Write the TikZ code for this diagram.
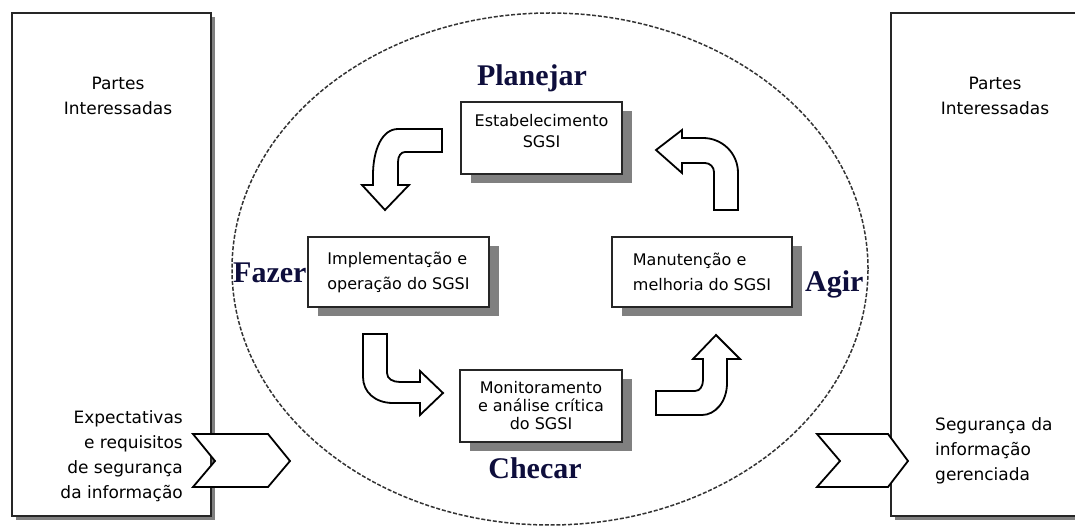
\documentclass[tikz,border=0pt]{standalone}
\usepackage{fontspec}
\setmainfont{Liberation Serif}
\setsansfont{DejaVu Sans}
\usepackage{xcolor}
\usetikzlibrary{shadows, positioning}
\definecolor{phasenavy}{RGB}{14,14,60}
\definecolor{shadowgray}{RGB}{128,128,128}

\begin{document}
\begin{tikzpicture}[
  x=1pt, y=-1pt,
  outerbox/.style={rectangle, draw=black!85, line width=2pt, fill=white,
                   drop shadow={shadow xshift=4pt, shadow yshift=-4pt, fill=shadowgray, opacity=1}},
  stagebox/.style={rectangle, draw=black!85, line width=2pt, fill=white,
                   inner sep=4pt, font=\sffamily\fontsize{16}{25}\selectfont,
                   drop shadow={shadow xshift=10pt, shadow yshift=-9pt, fill=shadowgray, opacity=1}},
  sidetext/.style={inner sep=0pt, font=\sffamily\fontsize{17}{25}\selectfont},
  phase/.style={inner sep=0pt, font=\rmfamily\bfseries\fontsize{30}{30}\selectfont, text=phasenavy},
  blockarr/.style={draw=black, fill=white, line width=1.8pt, line join=miter},
  chevron/.style={draw=black, fill=white, line width=1.8pt, line join=miter},
  cycleline/.style={draw=black!80, line width=1.5pt, dash pattern=on 4pt off 1.8pt},
]
\useasboundingbox (0,0) rectangle (1075,526);

% cycle ellipse
\draw[cycleline] (550,269) ellipse [x radius=318pt, y radius=256pt];

% interested parties
\node[outerbox, minimum width=199pt, minimum height=503pt] (partesL) at (111.5,264.5) {};
\node[outerbox, minimum width=220pt, minimum height=503pt] (partesR) at (1001,264.5) {};

\node[sidetext, align=center, anchor=base] (interL) at (118,115) {Partes\\Interessadas};
\node[sidetext, align=right, anchor=base east] (expect) at (183,498)
  {Expectativas\\e requisitos\\de segurança\\da informação};
\node[sidetext, align=center, anchor=base] (interR) at (995,115) {Partes\\Interessadas};
\node[sidetext, align=left, anchor=base west] (gerenc) at (935,480)
  {Segurança da\\informação\\gerenciada};

% PDCA stages
\node[stagebox, minimum width=161pt, minimum height=72pt] (estab) at (541.5,138) {};
\node[sidetext, align=center, anchor=base, font=\sffamily\fontsize{16}{21}\selectfont]
  (estabtxt) at (estab.center |- 0,148) {Estabelecimento\\SGSI};
\node[stagebox, minimum width=181pt, minimum height=70pt, align=left] (implem) at (398.5,272)
  {Implementação e\\operação do SGSI};
\node[stagebox, minimum width=180pt, minimum height=70pt, align=left] (manut) at (702,272)
  {Manutenção e\\melhoria do SGSI};
\node[stagebox, minimum width=162pt, minimum height=72pt, align=center,
      font=\sffamily\fontsize{16}{18}\selectfont] (monit) at (541,406)
  {Monitoramento\\e análise crítica\\do SGSI};

\node[phase, anchor=base] (planejar) at (532,86) {Planejar};
\node[phase, anchor=base west] (fazer) at (233,283) {Fazer};
\node[phase, anchor=base west] (agir) at (805,291) {Agir};
\node[phase, anchor=base] (checar) at (535,478) {Checar};

% turning arrows
\draw[blockarr] (442,129) -- (398,129) .. controls (382,129) and (373,150) .. (373,175)
  -- (373,185) -- (362,185) -- (385,210) -- (409,185) -- (398,185) -- (398,162)
  .. controls (398,156) and (401,152) .. (405,152) -- (442,152) -- cycle;
\draw[blockarr] (363,334) -- (387,334) -- (387,373) .. controls (387,379) and (393,382) .. (400,382)
  -- (420,382) -- (420,371) -- (443,393) -- (420,415) -- (420,403) -- (393,403)
  .. controls (375,403) and (363,392) .. (363,377) -- cycle;
\draw[blockarr] (656,391) -- (695,391) .. controls (700,391) and (703,386) .. (703,380)
  -- (703,359) -- (693,359) -- (716,335) -- (740,359) -- (727,359) -- (727,383)
  .. controls (727,402) and (715,415) .. (702,415) -- (656,415) -- cycle;
\draw[blockarr] (738,210) -- (714,210) -- (714,172) .. controls (714,167) and (710,163) .. (705,163)
  -- (682,163) -- (682,173) -- (656,150) -- (682,130) -- (682,138) -- (703,138)
  .. controls (722,138) and (738,153) .. (738,173) -- cycle;

% input and output chevrons
\draw[chevron] (193,434) -- (268,434) -- (290,461) -- (268,487) -- (193,487) -- (215,461) -- cycle;
\draw[chevron] (817,434) -- (888,434) -- (908,461) -- (888,487) -- (817,487) -- (840,461) -- cycle;

\end{tikzpicture}
\end{document}
